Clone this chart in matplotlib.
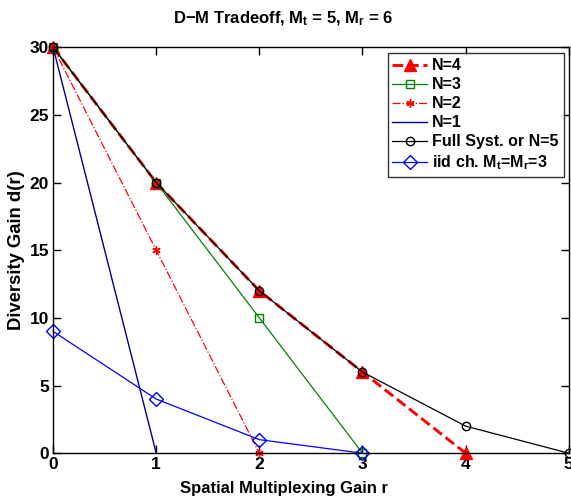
import matplotlib
matplotlib.use("Agg")
import matplotlib.pyplot as plt

plt.rcParams['font.family'] = ['Liberation Sans', 'DejaVu Sans']
plt.rcParams['font.weight'] = 'bold'
plt.rcParams['mathtext.default'] = 'regular'

r_n4 = [0, 1, 2, 3, 4]
d_n4 = [30, 20, 12, 6, 0]
r_n3 = [0, 1, 2, 3]
d_n3 = [30, 20, 10, 0]
r_n2 = [0, 1, 2]
d_n2 = [30, 15, 0]
r_n1 = [0, 1]
d_n1 = [30, 0]
r_full = [0, 1, 2, 3, 4, 5]
d_full = [30, 20, 12, 6, 2, 0]
r_iid = [0, 1, 2, 3]
d_iid = [9, 4, 1, 0]

xticks = [0, 1, 2, 3, 4, 5]
yticks = [0, 5, 10, 15, 20, 25, 30]

fig = plt.figure(figsize=(5.71, 4.98), dpi=100)
ax = fig.add_axes([0.093, 0.090, 0.903, 0.815])

ax.plot(r_n4, d_n4, '--', color='red', lw=2.1, marker='^', ms=8.5, mfc='red', mec='red', label='N=4', clip_on=False)
ax.plot(r_n3, d_n3, '-', color=(0, 0.5, 0), lw=0.9, marker='s', ms=6, mfc='none', mec=(0, 0.5, 0), label='N=3', clip_on=False)
ax.plot(r_n2, d_n2, '-.', color='red', lw=0.9, marker=(6, 2, 0), ms=6, mfc='red', mec='red', label='N=2', clip_on=False)
ax.plot(r_n1, d_n1, '-', color=(0, 0, 0.55), lw=1.0, label='N=1', clip_on=False)
ax.plot(r_full, d_full, '-', color='black', lw=0.9, marker='o', ms=6, mfc='none', mec='black', label='Full Syst. or N=5', clip_on=False)
ax.plot(r_iid, d_iid, '-', color='blue', lw=0.9, marker='D', ms=7, mfc='none', mec='blue', label=r'iid ch. M$_\mathregular{t}$=M$_\mathregular{r}$=3', clip_on=False)

ax.set_xlim(0, 5)
ax.set_ylim(0, 30)
ax.set_xticks(xticks)
ax.set_yticks(yticks)
ax.tick_params(direction='in', top=True, right=True, length=6, width=1, labelsize=12.5, pad=3)
for lab in ax.get_xticklabels() + ax.get_yticklabels():
    lab.set_fontweight('bold')
for s in ax.spines.values():
    s.set_linewidth(1)

ax.set_xlabel('Spatial Multiplexing Gain r', fontsize=12, fontweight='bold', labelpad=6, x=0.447)
ax.set_ylabel('Diversity Gain d(r)', fontsize=13.3, fontweight='bold', labelpad=3)
ax.set_title(r'D$-$M Tradeoff, M$_\mathregular{t}$ = 5, M$_\mathregular{r}$ = 6', fontsize=12, fontweight='bold', pad=17, x=0.447)

leg = ax.legend(loc='upper right', fontsize=11.5, frameon=True, fancybox=False, edgecolor='black',
                handlelength=2.2, borderpad=0.3, labelspacing=0.25, handletextpad=0.3,
                bbox_to_anchor=(0.99, 0.985), borderaxespad=0)
leg.get_frame().set_linewidth(1)
leg.set_zorder(5)
for t in leg.get_texts():
    t.set_fontweight('bold')

fig.savefig('out.png', dpi=100)
